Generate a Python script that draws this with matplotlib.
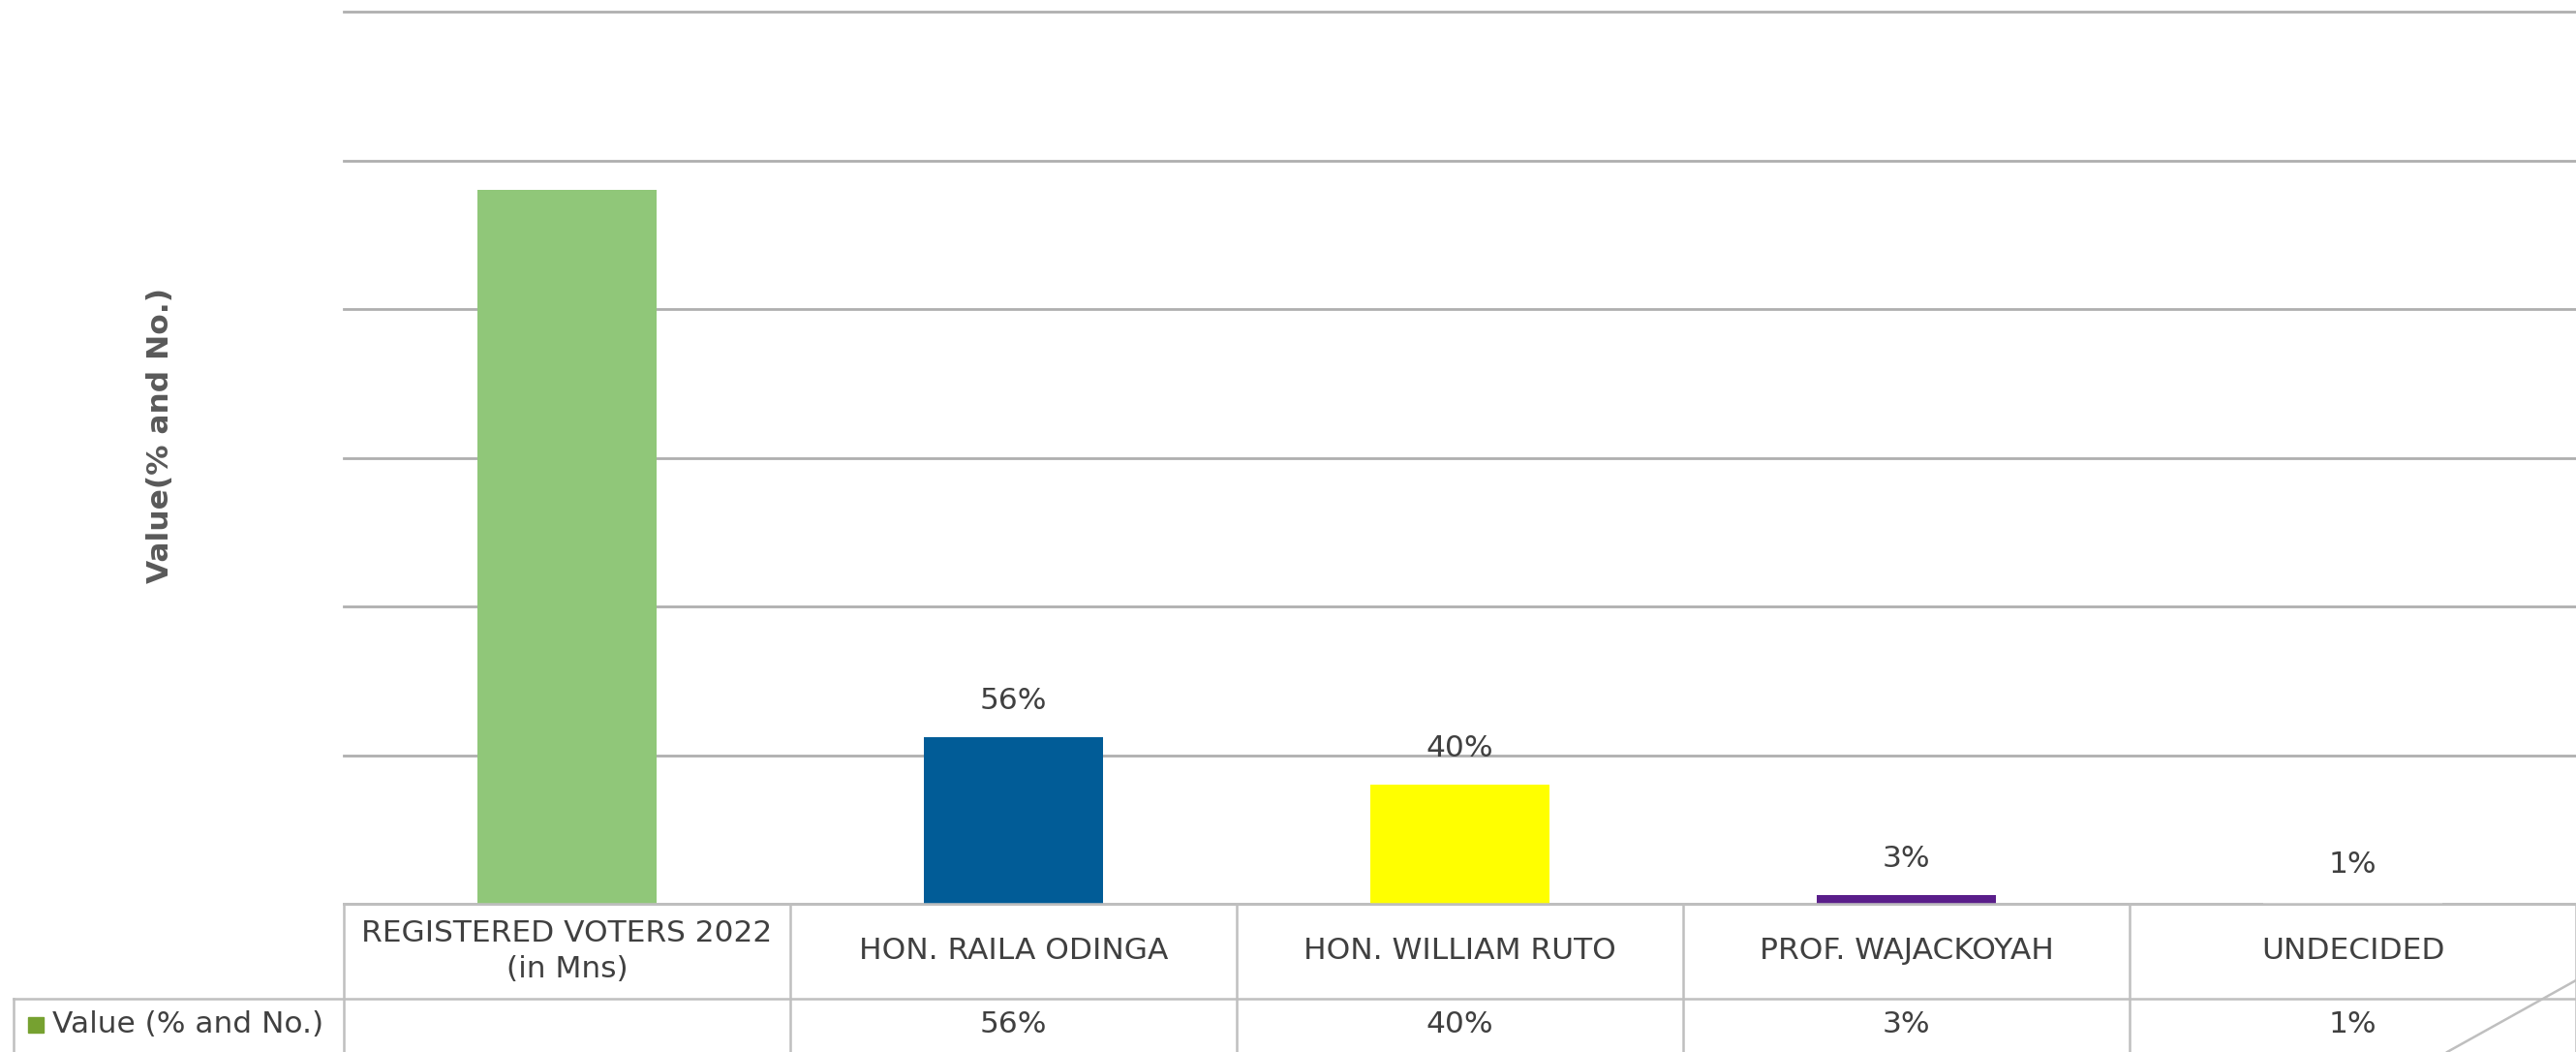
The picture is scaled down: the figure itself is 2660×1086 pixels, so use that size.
import numpy as np
import matplotlib.pyplot as plt
from matplotlib.lines import Line2D
from matplotlib.patches import Rectangle

categories = ['REGISTERED VOTERS 2022\n(in Mns)', 'HON. RAILA ODINGA', 'HON. WILLIAM RUTO',
              'PROF. WAJACKOYAH', 'UNDECIDED']
values = [2.40, 0.56, 0.40, 0.03, 0.01]
table_labels = ['', '56%', '40%', '3%', '1%']
bar_colors = ['#90C779', '#015C97', '#FFFF00', '#5A1E8A', '#FFFFFF']
series_name = 'Value (% and No.)'
y_label = 'Value(% and No.)'

W, H = 2660, 1086
font = ['DejaVu Sans']
txt = '#404040'
line_c = '#BFBFBF'
fs = 22.5

fig = plt.figure(figsize=(W / 100, H / 100), dpi=100)
# plot area in pixel terms of the full image
left, right, top, base = 355, 2660, 12, 933
ax = fig.add_axes([left / W, 1 - base / H, (right - left) / W, (base - top) / H])

x = np.arange(len(categories))
ax.bar(x, values, width=0.40, color=bar_colors, zorder=3)
ax.set_xlim(-0.5, len(categories) - 0.5)
ax.set_ylim(0, 3.0)
ax.set_yticks(np.arange(0, 3.01, 0.5))
ax.yaxis.grid(True, color='#AFAFAF', linewidth=2.0, zorder=0)
for gl in ax.get_ygridlines():
    gl.set_clip_on(False)
ax.tick_params(left=False, bottom=False, labelleft=False, labelbottom=False)
for s in ax.spines.values():
    s.set_visible(False)

for xi, v, lab in zip(x, values, table_labels):
    if lab:
        ax.annotate(lab, (xi, v), xytext=(0, 27), textcoords='offset points',
                    ha='center', va='center', fontsize=fs, color=txt, family=font)

fig.text(165 / W, 1 - 449 / H, y_label, rotation=90, ha='center', va='center',
         fontsize=22.5, color='#595959', fontweight='bold', family='DejaVu Sans')

# data table under the plot
def fy(py):
    return 1 - py / H

def fx(px):
    return px / W

row1_bot = 1031
col_edges = [left + i * (right - left) / len(categories) for i in range(len(categories) + 1)]
lw = 1.8
lines = [
    ((fx(left), fx(right)), (fy(base), fy(base))),
    ((fx(14), fx(right)), (fy(row1_bot), fy(row1_bot))),
    ((fx(14), fx(14)), (fy(row1_bot), fy(H))),
]
for ce in col_edges:
    lines.append(((fx(ce), fx(ce)), (fy(base), fy(H))))
lines.append(((fx(2660), fx(2527)), (fy(1012), fy(1086))))
for xs, ys in lines:
    fig.add_artist(Line2D(xs, ys, color=line_c, linewidth=lw))

for i, (cat, lab) in enumerate(zip(categories, table_labels)):
    cx = (col_edges[i] + col_edges[i + 1]) / 2
    fig.text(fx(cx), fy((base + row1_bot) / 2), cat, ha='center', va='center',
             fontsize=fs, color=txt, family=font, linespacing=1.35)
    fig.text(fx(cx), fy(1058), lab, ha='center', va='center',
             fontsize=fs, color=txt, family=font)

fig.add_artist(Rectangle((fx(29), fy(1066)), 16 / W, 16 / H, color='#76A130',
                         transform=fig.transFigure))
fig.text(fx(54), fy(1058), series_name, ha='left', va='center',
         fontsize=fs, color=txt, family=font)

fig.savefig('out.png', dpi=100)
